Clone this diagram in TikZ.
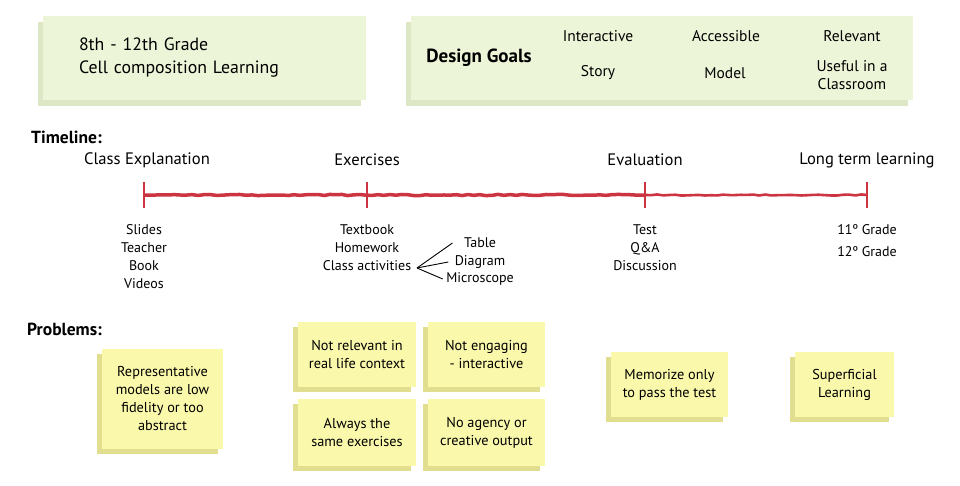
\documentclass[tikz,border=0pt]{standalone}
\usepackage{fontspec}
\setmainfont{PT Sans}
\usetikzlibrary{shadows,decorations.pathmorphing}
\definecolor{boxgreen}{RGB}{237,245,216}
\definecolor{boxshade}{RGB}{221,230,197}
\definecolor{noteyellow}{RGB}{250,248,170}
\definecolor{noteshade}{RGB}{225,222,144}
\definecolor{linered}{RGB}{204,52,66}
\tikzset{
  header/.style = { fill=boxgreen, minimum height=84pt, inner sep=0pt,
                    general shadow={fill=boxshade, shadow xshift=-5pt, shadow yshift=-6pt} },
  note/.style   = { fill=noteyellow, align=center, inner sep=0pt,
                    font=\fontsize{14.3}{18}\selectfont,
                    general shadow={fill=noteshade, shadow xshift=-5pt, shadow yshift=-5pt} },
  goal/.style   = { align=center, font=\fontsize{15.5}{18.5}\selectfont },
  stage/.style  = { font=\fontsize{16.6}{20}\selectfont },
  items/.style  = { align=center, font=\fontsize{14}{18}\selectfont },
  title/.style  = { anchor=west, inner sep=0pt, font=\bfseries\fontsize{17.5}{20}\selectfont },
  time/.style   = { draw=linered, line width=3.5pt, decorate,
                    decoration={random steps, segment length=6pt, amplitude=0.6pt} },
  tick/.style   = { draw=linered, line width=2.5pt },
  fan/.style    = { draw, line width=0.9pt }
}

\begin{document}
\begin{tikzpicture}[x=1pt, y=-1pt]
    \useasboundingbox (0,0) rectangle (960,486);

    %% Header boxes
    \node[header, minimum width=323pt, text width=251pt, align=left,
          font=\fontsize{17.8}{23}\selectfont] (grade) at (204.5,58)
          {8th - 12th Grade\\Cell composition Learning};
    \node[header, minimum width=502pt] (goals) at (662,58) {};
    \node[font=\bfseries\fontsize{19}{22}\selectfont] (dg) at (479,58) {Design Goals};
    \node[goal] (interactive) at (598,36) {Interactive};
    \node[goal] (accessible)  at (726,36) {Accessible};
    \node[goal] (relevant)    at (852,36) {Relevant};
    \node[goal] (story)       at (598,73) {Story};
    \node[goal] (model)       at (725,73) {Model};
    \node[goal] (useful)      at (852,75) {Useful in a\\Classroom};

    %% Timeline
    \node[title] (tl) at (31,137) {Timeline:};
    \node[stage] (explain)  at (147,160) {Class Explanation};
    \node[stage] (exercise) at (367,160) {Exercises};
    \node[stage] (eval)     at (645,160) {Evaluation};
    \node[stage] (longterm) at (867,160) {Long term learning};

    \coordinate (t1) at (144,195);
    \coordinate (t2) at (367,195);
    \coordinate (t3) at (645,195);
    \coordinate (t4) at (867,195);
    \draw[time] (t1) -- (t3);
    \draw[time, line width=2.6pt] (t3) -- (t4);
    \foreach \t in {t1,t2,t3,t4}
        \draw[tick] ([yshift=13pt]\t) -- ([yshift=-13pt]\t);

    \node[items] (slides)  at (144,257) {Slides\\Teacher\\Book\\Videos};
    \node[items] (texts)   at (367,248) {Textbook\\Homework\\Class activities};
    \node[items] (tests)   at (645,248) {Test\\Q\&A\\Discussion};
    \node[items, font=\fontsize{14}{22}\selectfont] (grades) at (867,241) {11º Grade\\12º Grade};

    \node[items] (table)   at (480,243) {Table};
    \node[items] (diagram) at (480,262) {Diagram};
    \node[items] (micro)   at (480,279) {Microscope};
    \coordinate (fan) at (417,268);
    \draw[fan] (fan) -- ([xshift=-8pt]table.west);
    \draw[fan] (fan) -- ([xshift=-3pt]diagram.west);
    \draw[fan] (fan) -- (micro.west);

    %% Problems
    \node[title] (pb) at (27,329) {Problems:};
    \node[note, minimum width=121pt, minimum height=100pt] (lowfi) at (162.5,399)
        {Representative\\models are low\\fidelity or too\\abstract};
    \node[note, minimum width=118pt, minimum height=65pt] (notrel) at (357,354.5)
        {Not relevant in\\real life context};
    \node[note, minimum width=117pt, minimum height=65pt] (noteng) at (486.5,354.5)
        {Not engaging\\- interactive};
    \node[note, minimum width=118pt, minimum height=67pt] (same) at (357,432.5)
        {Always the\\same exercises};
    \node[note, minimum width=117pt, minimum height=67pt] (agency) at (486.5,432.5)
        {No agency or\\creative output};
    \node[note, minimum width=117pt, minimum height=65pt] (memo) at (669.5,384.5)
        {Memorize only\\to pass the test};
    \node[note, minimum width=99pt, minimum height=65pt] (superf) at (844.5,384.5)
        {Superficial\\Learning};
\end{tikzpicture}
\end{document}
